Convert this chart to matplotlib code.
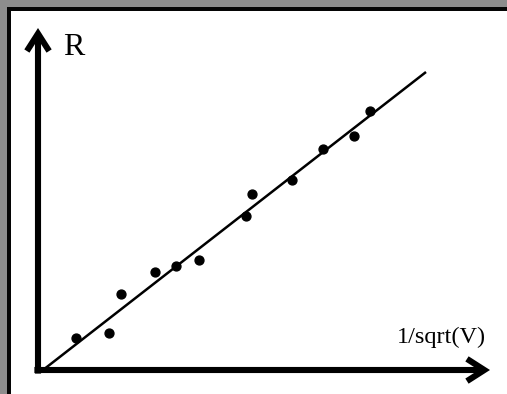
import matplotlib
matplotlib.use("Agg")
import matplotlib.pyplot as plt
from matplotlib.patches import Rectangle

# Measured points: resistance against inverse square root of voltage
inv_sqrt_v = [0.95, 1.775, 2.075, 2.925, 3.45, 4.025, 5.2, 5.34, 6.35, 7.125, 7.89, 8.29]
resistance = [0.80, 0.925, 1.90, 2.44, 2.60, 2.74, 3.86, 4.39, 4.75, 5.525, 5.86, 6.47]

# Straight-line fit drawn through the points
fit_x = [0.125, 9.70]
fit_y = [0.0, 7.45]

x_label = "1/sqrt(V)"
y_label = "R"

W, H, DPI = 507, 394, 100
fig = plt.figure(figsize=(W / DPI, H / DPI), dpi=DPI)
fig.patch.set_facecolor("white")

# Grey frame along the top and left edges, with a black inner rule
def px_rect(x0, y0, w, h, color):
    fig.patches.append(Rectangle((x0 / W, 1 - (y0 + h) / H), w / W, h / H,
                                 transform=fig.transFigure, facecolor=color,
                                 edgecolor="none", zorder=0))

px_rect(0, 0, W, 7, "#8d8d8d")
px_rect(0, 0, 7, H, "#8d8d8d")
px_rect(7, 7, W - 7, 3.5, "#050505")
px_rect(7, 7, 3.5, H - 7, "#050505")

ax = fig.add_axes([0, 0, 1, 1])
ax.set_facecolor("none")
ax.set_xlim(-38 / 40, (W - 38) / 40)
ax.set_ylim(-(H - 370) / 40, 370 / 40)
ax.axis("off")

# Axis arrows with open chevron heads and a square corner at the origin
arrow_props = dict(arrowstyle="->,head_length=1.25,head_width=0.8",
                   color="black", lw=4.4, shrinkA=0, shrinkB=0,
                   capstyle="butt", joinstyle="miter")
ax.annotate("", xy=(11.3, 0), xytext=(-0.09, 0), arrowprops=arrow_props)
ax.annotate("", xy=(0, 8.55), xytext=(0, -0.09), arrowprops=arrow_props)

# Fit line and data points
ax.plot(fit_x, fit_y, color="black", lw=1.8, solid_capstyle="butt", zorder=3)
ax.plot(inv_sqrt_v, resistance, "o", color="black", markersize=6.4, zorder=4)

serif = ["Liberation Serif", "DejaVu Serif"]
ax.text(0.63, 8.43, y_label, fontsize=23, family=serif, ha="left", va="top")
ax.text(11.2, 0.56, x_label, fontsize=17.5, family=serif, ha="right", va="bottom")

fig.savefig("out.png", dpi=DPI, facecolor="white")
